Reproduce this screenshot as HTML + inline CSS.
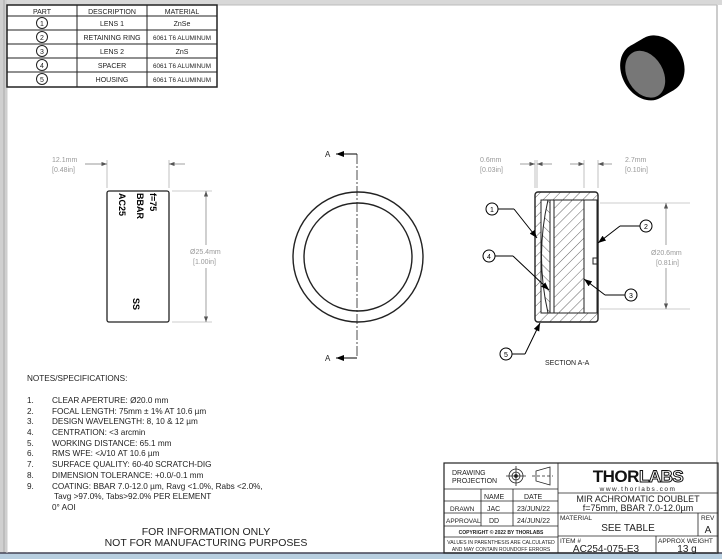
<!DOCTYPE html>
<html><head><style>
html,body{margin:0;padding:0;background:#fff;}
svg{display:block;font-family:"Liberation Sans",sans-serif;}
</style></head><body>
<svg width="722" height="559" viewBox="0 0 722 559" xmlns="http://www.w3.org/2000/svg">
<defs>
<pattern id="h1" width="7" height="7" patternUnits="userSpaceOnUse" patternTransform="rotate(45)"><line x1="0" y1="0" x2="0" y2="7" stroke="#222" stroke-width="0.7"/></pattern>
<pattern id="h2" width="7" height="7" patternUnits="userSpaceOnUse" patternTransform="rotate(-45)"><line x1="0" y1="0" x2="0" y2="7" stroke="#222" stroke-width="0.7"/></pattern>
<marker id="ar" markerWidth="8" markerHeight="6" refX="8" refY="3" orient="auto"><path d="M0,0 L8,3 L0,6z" fill="#555"/></marker>
<marker id="ab" markerWidth="8" markerHeight="6" refX="8" refY="3" orient="auto"><path d="M0,0 L8,3 L0,6z" fill="#000"/></marker>
</defs>
<rect width="722" height="559" fill="#fff"/>
<rect x="0" y="0" width="722" height="5" fill="#d8d8d8"/>
<rect x="0" y="0" width="7" height="559" fill="#d0d0d0"/>
<line x1="4" y1="0" x2="4" y2="553" stroke="#aaa"/>
<rect x="0" y="553" width="722" height="6" fill="#b8cfe0"/>
<line x1="0" y1="553" x2="722" y2="553" stroke="#445" stroke-width="1.5"/>
<line x1="717" y1="5" x2="717" y2="553" stroke="#bbb" stroke-width="1.5"/>
<line x1="7" y1="5" x2="717" y2="5" stroke="#bbb"/>
<line x1="7" y1="86" x2="7" y2="553" stroke="#ccc"/>

<g stroke="#222" stroke-width="1" fill="none">
<rect x="7" y="5" width="210" height="82" stroke-width="1.5"/>
<line x1="7" y1="16" x2="217" y2="16"/>
<line x1="7" y1="30" x2="217" y2="30"/>
<line x1="7" y1="44" x2="217" y2="44"/>
<line x1="7" y1="58" x2="217" y2="58"/>
<line x1="7" y1="72" x2="217" y2="72"/>
<line x1="77" y1="5" x2="77" y2="87"/>
<line x1="147" y1="5" x2="147" y2="87"/>
<circle cx="42" cy="23" r="5.5"/><circle cx="42" cy="37" r="5.5"/><circle cx="42" cy="51" r="5.5"/><circle cx="42" cy="65" r="5.5"/><circle cx="42" cy="79" r="5.5"/>
</g>
<g font-size="7" fill="#222" text-anchor="middle">
<text x="42" y="14">PART</text><text x="112" y="14">DESCRIPTION</text><text x="182" y="14">MATERIAL</text>
<text x="42" y="26">1</text><text x="42" y="40">2</text><text x="42" y="54">3</text><text x="42" y="68">4</text><text x="42" y="82">5</text>
<text x="112" y="26">LENS 1</text><text x="182" y="26">ZnSe</text>
<text x="112" y="40">RETAINING RING</text><text x="182" y="40" font-size="6.3">6061 T6 ALUMINUM</text>
<text x="112" y="54">LENS 2</text><text x="182" y="54">ZnS</text>
<text x="112" y="68">SPACER</text><text x="182" y="68" font-size="6.3">6061 T6 ALUMINUM</text>
<text x="112" y="82">HOUSING</text><text x="182" y="82" font-size="6.3">6061 T6 ALUMINUM</text>
</g>

<g transform="translate(652,68) rotate(-30)">
<ellipse cx="8" cy="0" rx="24" ry="30" fill="#000"/>
<rect x="-8" y="-30" width="16" height="60" fill="#000"/>
<ellipse cx="-8" cy="0" rx="23" ry="30" fill="#000"/>
<ellipse cx="-9" cy="2" rx="18" ry="25" fill="#777"/>
</g>

<g stroke="#222" fill="none">
<rect x="107" y="191" width="62" height="131" rx="2" stroke-width="1.3"/>
<line x1="107" y1="188" x2="107" y2="160" stroke="#999" stroke-width="0.6"/>
<line x1="169" y1="188" x2="169" y2="160" stroke="#999" stroke-width="0.6"/>
<line x1="85" y1="164" x2="107" y2="164" stroke="#777" stroke-width="0.7" marker-end="url(#ar)"/>
<line x1="185" y1="164" x2="169" y2="164" stroke="#777" stroke-width="0.7" marker-end="url(#ar)"/>
<line x1="172" y1="191" x2="212" y2="191" stroke="#999" stroke-width="0.6"/>
<line x1="172" y1="322" x2="212" y2="322" stroke="#999" stroke-width="0.6"/>
<line x1="206" y1="245" x2="206" y2="191" stroke="#777" stroke-width="0.7" marker-end="url(#ar)"/>
<line x1="206" y1="268" x2="206" y2="322" stroke="#777" stroke-width="0.7" marker-end="url(#ar)"/>
</g>
<g font-size="7" fill="#999"><text x="52" y="162">12.1mm</text><text x="52" y="172">[0.48in]</text>
<text x="190" y="254">Ø25.4mm</text><text x="193" y="264">[1.00in]</text></g>
<g font-size="9" font-weight="bold" fill="#000">
<text transform="translate(119,193) rotate(90)">AC25</text>
<text transform="translate(137,193) rotate(90)">BBAR</text>
<text transform="translate(150,193) rotate(90)">f=75</text>
<text transform="translate(133,298) rotate(90)">SS</text>
</g>

<g stroke="#222" fill="none" stroke-width="1.4">
<circle cx="358" cy="257" r="65"/>
<circle cx="358" cy="257" r="54"/>
</g>
<line x1="357" y1="154" x2="357" y2="358" stroke="#222" stroke-width="0.8" stroke-dasharray="10,2,2,2"/>
<line x1="357" y1="154" x2="336" y2="154" stroke="#000" stroke-width="1" marker-end="url(#ab)"/>
<line x1="357" y1="358" x2="336" y2="358" stroke="#000" stroke-width="1" marker-end="url(#ab)"/>
<g font-size="8" fill="#222"><text x="325" y="157">A</text><text x="325" y="361">A</text></g>

<g stroke="#222" stroke-width="1">
<rect x="535" y="192" width="63" height="130" rx="3" fill="url(#h1)" stroke-width="1.4"/>
<rect x="541" y="200" width="56" height="113" fill="#fff"/>
<path d="M548,200 Q535,256 548,313 L550,313 L550,200z" fill="url(#h2)"/>
<rect x="550" y="200" width="4" height="113" fill="#fff"/>
<rect x="554" y="200" width="30" height="113" fill="url(#h1)"/>
<rect x="584" y="200" width="13" height="113" fill="#fff"/>
<line x1="541" y1="200" x2="597" y2="200"/><line x1="541" y1="313" x2="597" y2="313"/>
<line x1="541" y1="200" x2="541" y2="313"/>
<rect x="593" y="258" width="4" height="6" fill="#fff"/>
</g>
<g stroke="#999" stroke-width="0.6" fill="none">
<line x1="535" y1="188" x2="535" y2="160"/><line x1="537" y1="188" x2="537" y2="160"/>
<line x1="584" y1="188" x2="584" y2="160"/><line x1="598" y1="188" x2="598" y2="160"/>
<line x1="600" y1="203" x2="690" y2="203"/><line x1="600" y1="309" x2="690" y2="309"/>
</g>
<g stroke="#777" stroke-width="0.7">
<line x1="520" y1="164" x2="535" y2="164" marker-end="url(#ar)"/>
<line x1="552" y1="164" x2="537" y2="164" marker-end="url(#ar)"/>
<line x1="570" y1="164" x2="584" y2="164" marker-end="url(#ar)"/>
<line x1="612" y1="164" x2="598" y2="164" marker-end="url(#ar)"/>
<line x1="666" y1="245" x2="666" y2="203" marker-end="url(#ar)"/>
<line x1="666" y1="268" x2="666" y2="309" marker-end="url(#ar)"/>
</g>
<g font-size="7" fill="#999"><text x="480" y="162">0.6mm</text><text x="480" y="172">[0.03in]</text>
<text x="625" y="162">2.7mm</text><text x="625" y="172">[0.10in]</text>
<text x="651" y="255">Ø20.6mm</text><text x="656" y="265">[0.81in]</text></g>
<g stroke="#000" stroke-width="1" fill="#fff">
<line x1="498" y1="209" x2="514" y2="209"/><line x1="514" y1="209" x2="537" y2="238" marker-end="url(#ab)"/>
<line x1="495" y1="256" x2="513" y2="256"/><line x1="513" y1="256" x2="549" y2="290" marker-end="url(#ab)"/>
<line x1="640" y1="226" x2="620" y2="226"/><line x1="620" y1="226" x2="598" y2="243" marker-end="url(#ab)"/>
<line x1="625" y1="295" x2="605" y2="295"/><line x1="605" y1="295" x2="584" y2="279" marker-end="url(#ab)"/>
<line x1="510" y1="354" x2="525" y2="354"/><line x1="525" y1="354" x2="540" y2="323" marker-end="url(#ab)"/>
<circle cx="492" cy="209" r="6"/><circle cx="489" cy="256" r="6"/><circle cx="646" cy="226" r="6"/><circle cx="631" cy="295" r="6"/><circle cx="506" cy="354" r="6"/>
</g>
<g font-size="7" fill="#000" text-anchor="middle"><text x="492" y="212">1</text><text x="489" y="259">4</text><text x="646" y="229">2</text><text x="631" y="298">3</text><text x="506" y="357">5</text></g>
<text x="545" y="365" font-size="7" fill="#222">SECTION A-A</text>

<g font-size="8.2" fill="#222">
<text x="27" y="381">NOTES/SPECIFICATIONS:</text>
<text x="27" y="403">1.</text><text x="52" y="403">CLEAR APERTURE: Ø20.0 mm</text>
<text x="27" y="414">2.</text><text x="52" y="414">FOCAL LENGTH: 75mm ± 1% AT 10.6 µm</text>
<text x="27" y="424">3.</text><text x="52" y="424">DESIGN WAVELENGTH: 8, 10 &amp; 12 µm</text>
<text x="27" y="435">4.</text><text x="52" y="435">CENTRATION: &lt;3 arcmin</text>
<text x="27" y="446">5.</text><text x="52" y="446">WORKING DISTANCE: 65.1 mm</text>
<text x="27" y="456">6.</text><text x="52" y="456">RMS WFE: &lt;λ/10 AT 10.6 µm</text>
<text x="27" y="467">7.</text><text x="52" y="467">SURFACE QUALITY: 60-40 SCRATCH-DIG</text>
<text x="27" y="478">8.</text><text x="52" y="478">DIMENSION TOLERANCE: +0.0/-0.1 mm</text>
<text x="27" y="489">9.</text><text x="52" y="489">COATING: BBAR 7.0-12.0 µm, Ravg &lt;1.0%, Rabs &lt;2.0%,</text>
<text x="54" y="499">Tavg &gt;97.0%, Tabs&gt;92.0% PER ELEMENT</text>
<text x="52" y="510">0° AOI</text>
</g>
<g font-size="10.5" fill="#222" text-anchor="middle"><text x="206" y="535">FOR INFORMATION ONLY</text><text x="206" y="546">NOT FOR MANUFACTURING PURPOSES</text></g>

<g stroke="#222" stroke-width="0.8" fill="none">
<rect x="444" y="463" width="274" height="90" stroke-width="1.2"/>
<line x1="558" y1="463" x2="558" y2="553"/>
<line x1="444" y1="489" x2="558" y2="489"/>
<line x1="444" y1="501" x2="558" y2="501"/>
<line x1="444" y1="513" x2="558" y2="513"/>
<line x1="444" y1="526" x2="558" y2="526"/>
<line x1="444" y1="537" x2="558" y2="537"/>
<line x1="481" y1="489" x2="481" y2="526"/>
<line x1="513" y1="489" x2="513" y2="526"/>
<line x1="558" y1="493" x2="718" y2="493"/>
<line x1="558" y1="513" x2="718" y2="513"/>
<line x1="558" y1="536" x2="718" y2="536"/>
<line x1="698" y1="513" x2="698" y2="536"/>
<line x1="656" y1="536" x2="656" y2="553"/>
<circle cx="516" cy="476" r="7"/><circle cx="516" cy="476" r="4"/><circle cx="516" cy="476" r="1.5" fill="#222"/>
<line x1="506" y1="476" x2="526" y2="476"/><line x1="516" y1="466" x2="516" y2="486"/>
<path d="M536,471 L550,467 L550,485 L536,481z"/><line x1="532" y1="476" x2="553" y2="476" stroke-dasharray="3,2"/>
</g>
<g fill="#222" font-size="7">
<text x="452" y="475">DRAWING</text><text x="452" y="483">PROJECTION</text>
<text x="484" y="499">NAME</text><text x="524" y="499">DATE</text>
<text x="450" y="511" font-size="6.5">DRAWN</text><text x="487" y="511">JAC</text><text x="517" y="511">23/JUN/22</text>
<text x="446" y="523" font-size="6.5">APPROVAL</text><text x="489" y="523">DD</text><text x="517" y="523">24/JUN/22</text>
<text x="501" y="534" font-size="5" text-anchor="middle" font-weight="bold">COPYRIGHT © 2022 BY THORLABS</text>
<text x="501" y="544" font-size="5" text-anchor="middle">VALUES IN PARENTHESIS ARE CALCULATED</text>
<text x="501" y="551" font-size="5" text-anchor="middle">AND MAY CONTAIN ROUNDOFF ERRORS</text>
<text x="560" y="520" font-size="6.5">MATERIAL</text><text x="701" y="520" font-size="6.5">REV</text>
<text x="560" y="543" font-size="6.5">ITEM #</text><text x="658" y="543" font-size="6.5">APPROX WEIGHT</text>
</g>
<text x="638" y="482" font-size="17" font-weight="bold" text-anchor="middle" fill="#111" letter-spacing="-0.5">THOR<tspan fill="#fff" stroke="#111" stroke-width="1">LABS</tspan></text>
<text x="638" y="491" font-size="6.5" text-anchor="middle" fill="#222" letter-spacing="1.5">www.thorlabs.com</text>
<g fill="#222" text-anchor="middle" font-size="9">
<text x="638" y="502">MIR ACHROMATIC DOUBLET</text>
<text x="638" y="511">f=75mm, BBAR 7.0-12.0µm</text>
<text x="628" y="531" font-size="10">SEE TABLE</text>
<text x="708" y="533" font-size="10">A</text>
<text x="606" y="552" font-size="10">AC254-075-E3</text>
<text x="687" y="552" font-size="10">13 g</text>
</g>
</svg>
</body></html>
